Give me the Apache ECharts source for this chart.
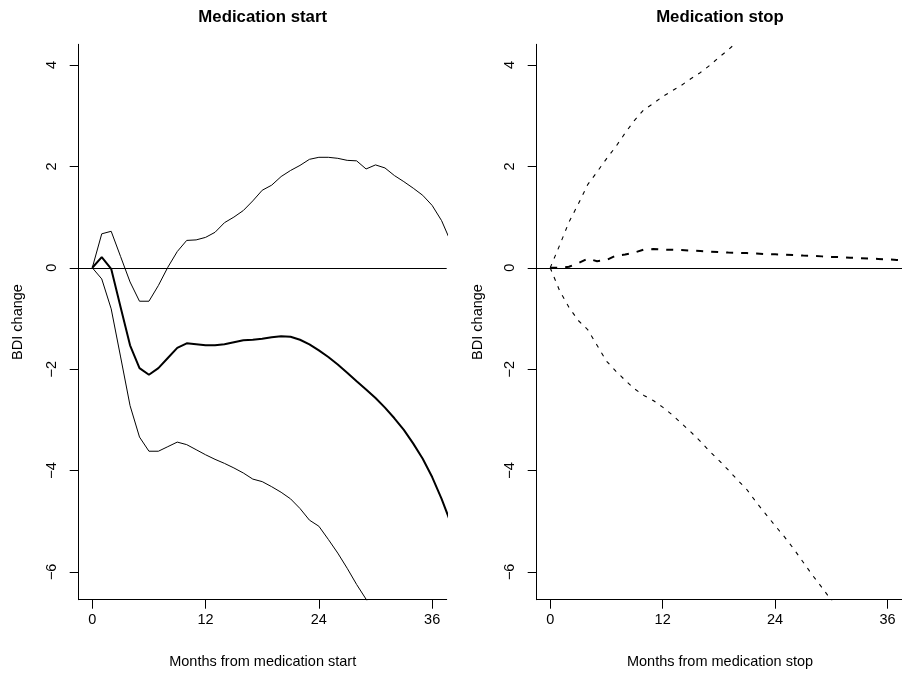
<!DOCTYPE html>
<html>
<head>
<meta charset="utf-8">
<script src="https://cdn.jsdelivr.net/npm/echarts@6/dist/echarts.min.js"></script>
<style>
html,body{margin:0;padding:0;background:#fff;}
#chart{width:902px;height:675px;}
</style>
</head>
<body>
<div id="chart"></div>
<script>
// Months (x values, one per index)
const months = [0,1,2,3,4,5,6,7,8,9,10,11,12,13,14,15,16,17,18,19,20,21,22,23,24,25,26,27,28,29,30,31,32,33,34,35,36,37,38];

// Medication start panel
const startEst = [0,0.21,-0.02,-0.78,-1.53,-1.98,-2.11,-1.98,-1.78,-1.58,-1.49,-1.51,-1.53,-1.53,-1.51,-1.47,-1.43,-1.42,-1.40,-1.37,-1.35,-1.36,-1.42,-1.51,-1.63,-1.76,-1.91,-2.07,-2.24,-2.40,-2.57,-2.76,-2.97,-3.20,-3.47,-3.77,-4.13,-4.56,-5.05];
const startUpper = [0,0.67,0.72,0.22,-0.28,-0.66,-0.66,-0.35,0.01,0.32,0.54,0.55,0.60,0.70,0.89,1.00,1.13,1.32,1.53,1.63,1.80,1.92,2.02,2.14,2.18,2.18,2.16,2.12,2.11,1.95,2.03,1.97,1.82,1.70,1.57,1.43,1.23,0.93,0.50];
const startLower = [0,-0.22,-0.81,-1.76,-2.72,-3.34,-3.62,-3.62,-3.53,-3.44,-3.49,-3.59,-3.69,-3.78,-3.86,-3.95,-4.05,-4.17,-4.22,-4.32,-4.43,-4.56,-4.75,-4.98,-5.10,-5.36,-5.63,-5.93,-6.25,-6.54,-6.85];

// Medication stop panel
const stopEst = [0,0,0.02,0.09,0.18,0.13,0.15,0.24,0.26,0.30,0.36,0.37,0.36,0.355,0.35,0.34,0.33,0.32,0.31,0.30,0.295,0.29,0.28,0.27,0.265,0.26,0.25,0.24,0.235,0.225,0.215,0.21,0.20,0.19,0.185,0.175,0.165,0.155,0.15];
const stopUpper = [0,0.44,0.90,1.26,1.64,1.89,2.15,2.39,2.66,2.91,3.12,3.24,3.38,3.49,3.60,3.73,3.85,3.99,4.15,4.30,4.47];
const stopLower = [0,-0.45,-0.78,-1.04,-1.22,-1.53,-1.84,-2.04,-2.22,-2.39,-2.52,-2.62,-2.75,-2.90,-3.07,-3.24,-3.42,-3.62,-3.80,-3.99,-4.19,-4.38,-4.63,-4.86,-5.09,-5.31,-5.55,-5.81,-6.07,-6.31,-6.56,-6.80];

// Axis ticks
const xTicks = [0,12,24,36];
const yTicks = [-6,-4,-2,0,2,4];
const panelTitles = ['Medication start','Medication stop'];
const xTitles = ['Months from medication start','Months from medication stop'];
const yTitle = 'BDI change';

const FONT = '"Liberation Sans", Arial, Helvetica, sans-serif';
const pairs = arr => arr.map((v,i)=>[months[i], v]);
const fmt = v => (v < 0 ? '\u2212' + Math.abs(v) : String(v));

function xAxisFor(gi){
  return {
    type:'value', gridIndex:gi, min:-1.44, max:37.54,
    splitLine:{show:false},
    axisLine:{show:true, onZero:false, lineStyle:{color:'#000', width:1}},
    axisTick:{show:true, inside:false, length:9, customValues:xTicks, lineStyle:{color:'#000', width:1}},
    axisLabel:{show:true, margin:13, customValues:xTicks, color:'#000', fontFamily:FONT, fontSize:14.5, formatter:fmt}
  };
}
function yAxisFor(gi){
  return {
    type:'value', gridIndex:gi, min:-6.55, max:4.41,
    splitLine:{show:false},
    axisLine:{show:true, onZero:false, lineStyle:{color:'#000', width:1}},
    axisTick:{show:true, inside:false, length:9, customValues:yTicks, lineStyle:{color:'#000', width:1}},
    axisLabel:{show:true, margin:19, rotate:90, customValues:yTicks, color:'#000', fontFamily:FONT, fontSize:14.5, formatter:fmt}
  };
}
function lineSeries(gi, data, width, dash){
  return {
    type:'line', xAxisIndex:gi, yAxisIndex:gi, data:pairs(data),
    showSymbol:false, symbol:'none', clip:true, silent:true,
    lineStyle:{color:'#000', width:width, type:dash || 'solid'},
    z:3
  };
}
function zeroLine(gi){
  return {
    type:'line', xAxisIndex:gi, yAxisIndex:gi, data:[], silent:true,
    markLine:{silent:true, symbol:'none', label:{show:false},
      lineStyle:{color:'#000', width:1, type:'solid'},
      data:[{yAxis:0}]}
  };
}

const chart = echarts.init(document.getElementById('chart'), null, {renderer:'canvas'});
chart.setOption({
  animation:false,
  backgroundColor:'#fff',
  grid:[
    {left:78.7, top:44.3, width:368, height:555.4, containLabel:false},
    {left:536.7, top:44.3, width:369.1, height:555.4, containLabel:false}
  ],
  xAxis:[xAxisFor(0), xAxisFor(1)],
  yAxis:[yAxisFor(0), yAxisFor(1)],
  graphic:[
    {type:'text', x:262.7, y:17.5, style:{text:panelTitles[0], font:'bold 16.8px '+FONT, fill:'#000', align:'center', verticalAlign:'middle'}},
    {type:'text', x:720, y:17.5, style:{text:panelTitles[1], font:'bold 16.8px '+FONT, fill:'#000', align:'center', verticalAlign:'middle'}},
    {type:'text', x:262.7, y:661.7, style:{text:xTitles[0], font:'14.5px '+FONT, fill:'#000', align:'center', verticalAlign:'middle'}},
    {type:'text', x:720, y:661.7, style:{text:xTitles[1], font:'14.5px '+FONT, fill:'#000', align:'center', verticalAlign:'middle'}},
    {type:'text', x:18, y:322, rotation:Math.PI/2, style:{text:yTitle, font:'14.5px '+FONT, fill:'#000', align:'center', verticalAlign:'middle'}},
    {type:'text', x:478, y:322, rotation:Math.PI/2, style:{text:yTitle, font:'14.5px '+FONT, fill:'#000', align:'center', verticalAlign:'middle'}}
  ],
  series:[
    zeroLine(0),
    lineSeries(0, startUpper, 1),
    lineSeries(0, startLower, 1),
    lineSeries(0, startEst, 2),
    zeroLine(1),
    lineSeries(1, stopUpper, 1.1, [4,6]),
    lineSeries(1, stopLower, 1.1, [4,6]),
    lineSeries(1, stopEst, 2, [7,8])
  ]
});
</script>
</body>
</html>
